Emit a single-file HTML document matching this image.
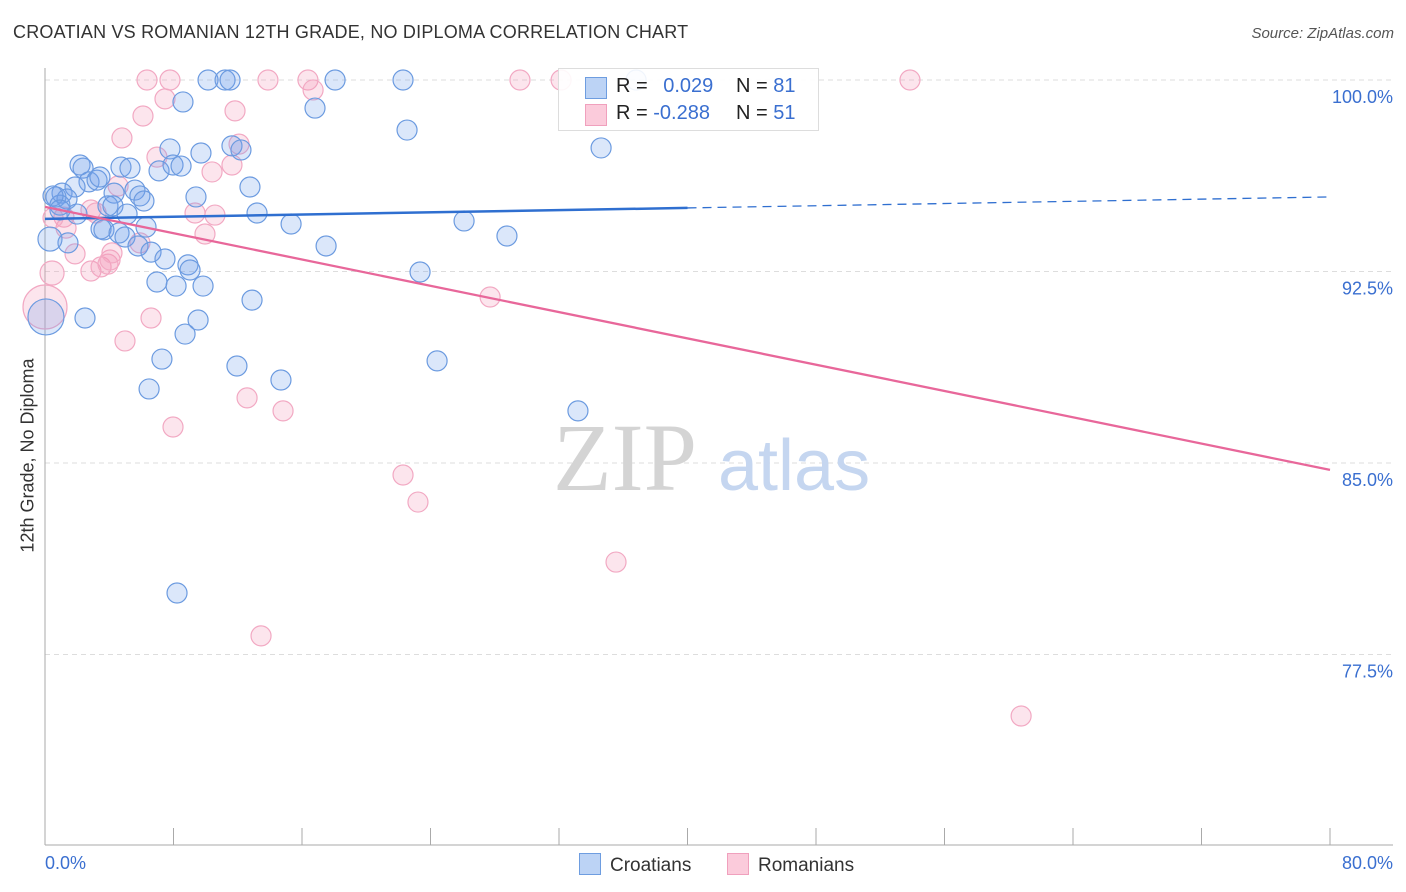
<!DOCTYPE html>
<html><head><meta charset="utf-8"><style>
body{margin:0;background:#fff;font-family:"Liberation Sans",sans-serif;}
#wrap{position:relative;width:1406px;height:892px;overflow:hidden;}
</style></head><body>
<div id="wrap">
<div style="position:absolute;left:13px;top:22px;font-size:18px;color:#333;letter-spacing:0.2px">CROATIAN VS ROMANIAN 12TH GRADE, NO DIPLOMA CORRELATION CHART</div>
<div style="position:absolute;right:12px;top:25px;font-size:15px;color:#555;font-style:italic">Source: ZipAtlas.com</div>
<svg id="svg" width="1406" height="892" style="position:absolute;left:0;top:0"></svg>
</div>
<script>
const blueX=[10.15,11.21,11.52,18.06,22.29,36.8,8.59,16.81,22.54,34.62,7.78,11.64,12.20,9.71,2.18,2.37,4.73,5.29,7.10,7.97,8.47,12.76,2.74,3.24,3.42,1.87,1.06,0.68,1.37,0.93,4.30,5.60,5.91,6.16,9.40,3.92,4.23,5.11,1.99,13.20,15.32,26.09,28.76,3.49,3.67,4.61,4.98,6.29,1.43,5.79,6.60,17.50,0.31,7.47,8.90,9.03,23.35,6.97,8.16,9.84,12.89,2.49,9.53,8.72,7.28,11.95,24.41,14.69,6.48,33.18,8.22,0.06,0.50,0.93];
const blueY=[100,100,100,100,100,100,99.14,98.90,98.04,97.34,97.30,97.42,97.26,97.14,96.67,96.55,96.59,96.55,96.44,96.67,96.63,95.81,96.01,96.08,96.20,95.81,95.57,95.42,95.34,95.10,95.57,95.69,95.46,95.26,95.42,95.07,95.07,94.75,94.75,94.79,94.36,94.48,93.89,94.17,94.13,94.01,93.85,94.24,93.62,93.50,93.26,93.50,93.77,92.99,92.76,92.56,92.48,92.09,91.93,91.93,91.38,90.68,90.60,90.05,89.07,88.80,89.00,88.25,87.90,87.04,79.91,90.72,95.46,94.91];
const pinkX=[6.35,7.78,13.88,16.37,29.57,32.13,53.85,7.47,16.69,11.83,6.10,4.79,12.08,6.97,11.64,10.40,4.55,2.86,1.18,9.34,10.58,9.96,1.31,1.87,0.44,2.86,3.49,3.92,4.05,5.91,4.17,6.60,4.98,27.71,12.58,14.82,7.97,22.29,23.22,35.55,13.45,60.77,0.0,3.18,0.50];
const pinkY=[100,100,100,100,100,100,100,99.26,99.61,98.79,98.59,97.73,97.49,96.98,96.67,96.40,95.85,94.91,94.63,94.79,94.71,93.97,94.20,93.19,92.44,92.52,92.68,92.79,92.95,93.62,93.23,90.68,89.78,91.50,87.55,87.04,86.41,84.53,83.47,81.12,78.23,75.09,91.11,94.79,94.60];
const blueTrend=[94.56,95.42];
const pinkTrend=[95.03,84.73];
const yTicks=[100,92.5,85,77.5];
const yTickLabels=["100.0%","92.5%","85.0%","77.5%"];

const X=v=>45+v/80*1285;
const Y=v=>80+(100-v)/7.5*191.5;
const svg=document.getElementById('svg');
const NS='http://www.w3.org/2000/svg';
function mk(t,a,p){const e=document.createElementNS(NS,t);for(const k in a)e.setAttribute(k,a[k]);(p||svg).appendChild(e);return e;}

yTicks.forEach((t,i)=>{
  const g=mk('line',{x1:45,x2:1393,y1:Y(t),y2:Y(t),stroke:'#ddd','stroke-dasharray':'5,4'});
  
  
  const tx=mk('text',{x:1393,y:Y(t)+23,'text-anchor':'end','font-size':18,fill:'#3a6fd0','font-family':'Liberation Sans, sans-serif'});
  tx.textContent=yTickLabels[i];
  
  
});
const ya=mk('line',{x1:45,x2:45,y1:68,y2:845,stroke:'#aaa'});


const xa=mk('line',{x1:45,x2:1393,y1:845,y2:845,stroke:'#aaa'});


for(let i=0;i<=10;i++){
  const tk=mk('line',{x1:X(i*8),x2:X(i*8),y1:828,y2:845,stroke:'#aaa'});
  
  
}
const wm1=mk('text',{x:553,y:490,'font-size':96,fill:'#d4d4d4','font-family':'Liberation Serif, serif'});
wm1.textContent='ZIP';


const wm2=mk('text',{x:718,y:490,'font-size':72,fill:'#c5d6f0','font-family':'Liberation Sans, sans-serif'});
wm2.textContent='atlas';



pinkX.forEach((x,i)=>{
  let r=10; if(i===42) r=22; if(i===24) r=12;
  const c=mk('circle',{cx:X(x),cy:Y(pinkY[i]),r:r,fill:'rgba(244,150,182,0.25)',stroke:'#f2a9c3','stroke-width':1.2});
  
  
});
blueX.forEach((x,i)=>{
  let r=10; if(i===71) r=18; if(i===52) r=12;
  const c=mk('circle',{cx:X(x),cy:Y(blueY[i]),r:r,fill:'rgba(110,160,235,0.25)',stroke:'#6c9be0','stroke-width':1.2});
  
  
});
const bAt=v=>blueTrend[0]+(blueTrend[1]-blueTrend[0])*v/80;
const bl1=mk('line',{x1:X(0),y1:Y(bAt(0)),x2:X(40),y2:Y(bAt(40)),stroke:'#2f6fd0','stroke-width':2.5});


const bl2=mk('line',{x1:X(40),y1:Y(bAt(40)),x2:X(80),y2:Y(bAt(80)),stroke:'#2f6fd0','stroke-width':1.3,'stroke-dasharray':'9,6'});


const pl=mk('line',{x1:X(0),y1:Y(pinkTrend[0]),x2:X(80),y2:Y(pinkTrend[1]),stroke:'#e8679a','stroke-width':2.3});


</script>
<div style="position:absolute;left:-82px;top:445px;width:220px;text-align:center;white-space:nowrap;transform:rotate(-90deg);font-size:18px;color:#333">12th Grade, No Diploma</div>
<div style="position:absolute;left:45px;top:853px;font-size:18px;color:#3a6fd0">0.0%</div>
<div style="position:absolute;right:13px;top:853px;font-size:18px;color:#3a6fd0">80.0%</div>
<div style="position:absolute;left:558px;top:68px;width:259px;height:61px;border:1px solid #ddd;background:rgba(255,255,255,0.9);font-size:20px;color:#222">
  <div style="position:absolute;left:26px;top:8px;width:20px;height:20px;background:#bcd3f5;border:1px solid #6e9de0"></div>
  <div style="position:absolute;left:57px;top:6px">R = <span style="color:#3a6fd0;margin-left:10px">0.029</span></div>
  <div style="position:absolute;left:177px;top:6px">N = <span style="color:#3a6fd0">81</span></div>
  <div style="position:absolute;left:26px;top:35px;width:20px;height:20px;background:#fbcbdb;border:1px solid #f0a0bd"></div>
  <div style="position:absolute;left:57px;top:33px">R = <span style="color:#3a6fd0">-0.288</span></div>
  <div style="position:absolute;left:177px;top:33px">N = <span style="color:#3a6fd0">51</span></div>
</div>
<div style="position:absolute;left:579px;top:853px;font-size:19px;color:#333">
  <span style="display:inline-block;width:20px;height:20px;background:#bcd3f5;border:1px solid #6e9de0;vertical-align:-4px;margin-right:9px"></span>Croatians</div>
<div style="position:absolute;left:727px;top:853px;font-size:19px;color:#333">
  <span style="display:inline-block;width:20px;height:20px;background:#fbcbdb;border:1px solid #f0a0bd;vertical-align:-4px;margin-right:9px"></span>Romanians</div>
</body></html>
